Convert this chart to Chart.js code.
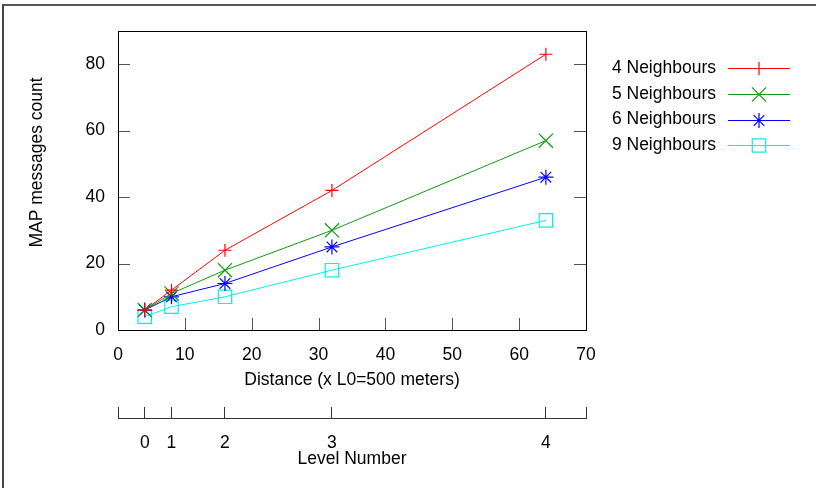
<!DOCTYPE html>
<html>
<head>
<meta charset="utf-8">
<script src="https://cdn.jsdelivr.net/npm/chart.js@4.4.0/dist/chart.umd.min.js"></script>
<style>
  body { margin: 0; background: #fff; }
  #wrap { position: relative; width: 816px; height: 488px; }
  #chart { display: block; }
  #frame { position: absolute; left: 2px; top: 4px; right: 0; bottom: 0; border-top: 2px solid #555; border-left: 2px solid #444; pointer-events: none; }
</style>
</head>
<body>
<div id="wrap">
  <canvas id="chart" width="816" height="488"></canvas>
  <div id="frame"></div>
</div>
<script>
// distance in units of L0 = 500 m
const distances = [4, 8, 16, 32, 64];
const levelNumbers = [0, 1, 2, 3, 4];

const n4 = [6, 12, 24, 42, 83];
const n5 = [6, 11, 18, 30, 57];
const n6 = [6, 10, 14, 25, 46];
const n9 = [4, 7, 10, 18, 33];

const seriesNames = ['4 Neighbours', '5 Neighbours', '6 Neighbours', '9 Neighbours'];
const seriesValues = [n4, n5, n6, n9];
const seriesColors = ['#ff0000', '#119911', '#0000ff', '#00f0f0'];
const seriesMarks = ['cross', 'crossRot', 'star', 'rect'];
const seriesRadius = [6.5, 10, 7.5, 9.5];

const yTitle = 'MAP messages count';

const FONT = { family: "'Liberation Sans', Arial, sans-serif", size: 17.5 };

const datasets = seriesNames.map((name, i) => ({
    label: name,
    data: distances.map((d, j) => ({ x: d, y: seriesValues[i][j] })),
    xAxisID: 'x',
    yAxisID: 'y',
    borderColor: seriesColors[i],
    borderWidth: 1,
    tension: 0,
    fill: false,
    pointStyle: seriesMarks[i],
    pointRadius: seriesRadius[i],
    pointBorderColor: seriesColors[i],
    pointBackgroundColor: 'rgba(0,0,0,0)',
    pointBorderWidth: 1.2
}));

// frame around the plot + inward tick marks, and the line of the level axis
const framePlugin = {
    id: 'frame',
    beforeDatasetsDraw(chart) {
        const { ctx, chartArea: a } = chart;
        const xs = chart.scales.x, ys = chart.scales.y, x2 = chart.scales.x2;
        ctx.save();
        ctx.lineWidth = 1;
        ctx.strokeStyle = '#555';
        ctx.beginPath();
        ys.ticks.forEach(t => {
            const y = Math.round(ys.getPixelForValue(t.value)) + 0.5;
            ctx.moveTo(a.left, y); ctx.lineTo(a.left + 12, y);
            ctx.moveTo(a.right, y); ctx.lineTo(a.right - 12, y);
        });
        xs.ticks.forEach(t => {
            const x = Math.round(xs.getPixelForValue(t.value)) + 0.5;
            ctx.moveTo(x, a.bottom); ctx.lineTo(x, a.bottom - 12);
        });
        ctx.stroke();
        ctx.strokeStyle = '#000';
        ctx.strokeRect(Math.round(a.left) + 0.5, Math.round(a.top) + 0.5,
            Math.round(a.right - a.left), Math.round(a.bottom - a.top));
        // level axis base line
        const ly = Math.round(x2.top + x2.options.grid.tickLength) + 0.5;
        ctx.strokeStyle = '#333';
        ctx.beginPath();
        ctx.moveTo(x2.left, ly); ctx.lineTo(x2.right + 1, ly);
        ctx.stroke();
        // y axis title, gnuplot puts it a bit above the middle
        ctx.translate(37, (a.top + a.bottom) / 2 - 18);
        ctx.rotate(-Math.PI / 2);
        ctx.font = FONT.size + 'px ' + FONT.family;
        ctx.fillStyle = '#000';
        ctx.textAlign = 'center';
        ctx.textBaseline = 'middle';
        ctx.fillText(yTitle, 0, 0);
        ctx.restore();
    }
};

// gnuplot style key: text, then a line sample with the marker in the middle
const keyPlugin = {
    id: 'key',
    afterDraw(chart) {
        const { ctx, chartArea: a } = chart;
        ctx.save();
        ctx.font = FONT.size + 'px ' + FONT.family;
        ctx.textAlign = 'right';
        ctx.textBaseline = 'middle';
        chart.data.datasets.forEach((ds, i) => {
            const y = a.top + 37 + i * 25.8;
            ctx.fillStyle = '#000';
            ctx.fillText(ds.label, a.right + 130, y);
            ctx.strokeStyle = ds.borderColor;
            ctx.lineWidth = 1;
            ctx.beginPath();
            ctx.moveTo(a.right + 142, Math.round(y) + 0.5);
            ctx.lineTo(a.right + 204, Math.round(y) + 0.5);
            ctx.stroke();
            ctx.fillStyle = 'rgba(0,0,0,0)';
            ctx.lineWidth = 1.2;
            Chart.helpers.drawPoint(ctx, {
                pointStyle: ds.pointStyle, radius: ds.pointRadius, borderWidth: 1.2, rotation: 0
            }, a.right + 173, Math.round(y) + 0.5);
        });
        ctx.restore();
    }
};

new Chart(document.getElementById('chart'), {
    type: 'line',
    data: { datasets: datasets },
    options: {
        responsive: false,
        animation: false,
        layout: { padding: { left: 14, top: 31, right: 230, bottom: 18 } },
        plugins: {
            legend: { display: false },
            tooltip: { enabled: false }
        },
        scales: {
            x: {
                type: 'linear',
                position: 'bottom',
                weight: 0,
                min: 0,
                max: 70,
                grid: { display: false, drawTicks: false },
                border: { display: false },
                ticks: { stepSize: 10, font: FONT, color: '#000', padding: 15, maxRotation: 0 },
                title: {
                    display: true, text: 'Distance (x L0=500 meters)',
                    font: FONT, color: '#000', padding: { top: 0, bottom: 16 }
                },
                afterFit: s => { s.height = 77; s.paddingLeft = 0; s.paddingRight = 0; }
            },
            x2: {
                type: 'linear',
                position: 'bottom',
                weight: 1,
                min: 0,
                max: 70,
                grid: { display: true, drawOnChartArea: false, drawTicks: true, tickLength: 11, color: '#333', lineWidth: 1 },
                border: { display: false },
                afterBuildTicks: s => { s.ticks = [0, ...distances, 70].map(v => ({ value: v })); },
                ticks: {
                    autoSkip: false, maxRotation: 0, font: FONT, color: '#000', padding: 15,
                    callback: v => {
                        const i = distances.indexOf(v);
                        return i < 0 ? '' : String(levelNumbers[i]);
                    }
                },
                title: {
                    display: true, text: 'Level Number',
                    font: FONT, color: '#000', padding: { top: 0, bottom: 0 }
                },
                afterFit: s => { s.height = 63; s.paddingLeft = 0; s.paddingRight = 0; }
            },
            y: {
                type: 'linear',
                min: 0,
                max: 90,
                grid: { display: false, drawTicks: false },
                border: { display: false },
                ticks: { stepSize: 20, includeBounds: false, font: FONT, color: '#000', padding: 13 },
                title: { display: false },
                afterFit: s => { s.width = 104; s.paddingTop = 0; s.paddingBottom = 0; }
            }
        }
    },
    plugins: [framePlugin, keyPlugin]
});
</script>
</body>
</html>
